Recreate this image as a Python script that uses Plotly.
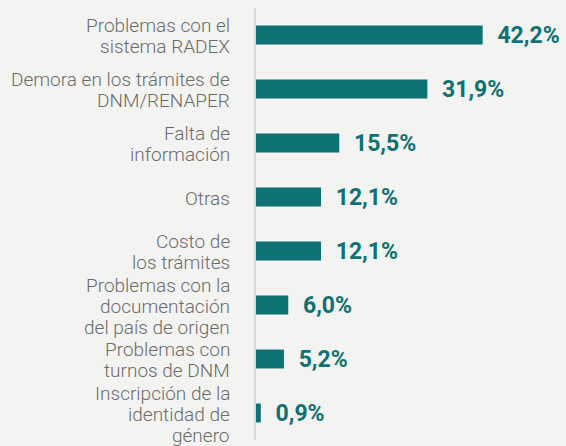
import plotly.graph_objects as go

categories = [
    "Problemas con el<br>sistema RADEX",
    "Demora en los trámites de<br>DNM/RENAPER",
    "Falta de<br>información",
    "Otras",
    "Costo de<br>los trámites",
    "Problemas con la<br>documentación<br>del país de origen",
    "Problemas con<br>turnos de DNM",
    "Inscripción de la<br>identidad de<br>género",
]
values = [42.2, 31.9, 15.5, 12.1, 12.1, 6.0, 5.2, 0.9]
value_labels = ["42,2%", "31,9%", "15,5%", "12,1%", "12,1%", "6,0%", "5,2%", "0,9%"]

TEAL = "#0e7173"
BG = "#f3f3f1"
LABEL_COLOR = "#6b6b6b"
LINE_STEP = 21

fig = go.Figure(go.Bar(
    x=values,
    y=categories,
    orientation="h",
    marker=dict(color=TEAL, line=dict(width=0)),
    width=0.35,
    text=value_labels,
    texttemplate="\u2002%{text}",
    textposition="outside",
    constraintext="none",
    cliponaxis=False,
    textfont=dict(family="Roboto", size=23, color=TEAL, weight="bold"),
    hoverinfo="skip",
))

# category labels: one annotation per line so the line spacing can be tight
annotations = []
for cat in categories:
    lines = cat.split("<br>")
    n = len(lines)
    for i, line in enumerate(lines):
        offset = ((n - 1) / 2 - i) * LINE_STEP - 1
        annotations.append(dict(
            x=0, xref="paper", y=cat, yref="y",
            text=line, showarrow=False,
            xanchor="right", yanchor="middle",
            xshift=-24, yshift=offset,
            font=dict(family="Roboto", size=19, color=LABEL_COLOR, weight=300),
        ))

fig.update_layout(
    width=566, height=446,
    margin=dict(l=256, r=6, t=8, b=6, autoexpand=False),
    paper_bgcolor=BG, plot_bgcolor=BG,
    showlegend=False,
    annotations=annotations,
)
fig.update_xaxes(range=[0, 56.6], visible=False, showgrid=False, zeroline=False,
                 automargin=False)
fig.update_yaxes(
    range=[len(categories) - 0.5, -0.5],
    showline=True, linecolor="#d9d9d9", linewidth=2,
    showgrid=False, zeroline=False, ticks="",
    showticklabels=False, automargin=False,
)

fig.write_html(
    "out.html",
    config={"displayModeBar": False},
    post_script="document.body.style.margin='0';document.body.style.overflow='hidden';"
                "document.body.style.background='" + BG + "';",
)
